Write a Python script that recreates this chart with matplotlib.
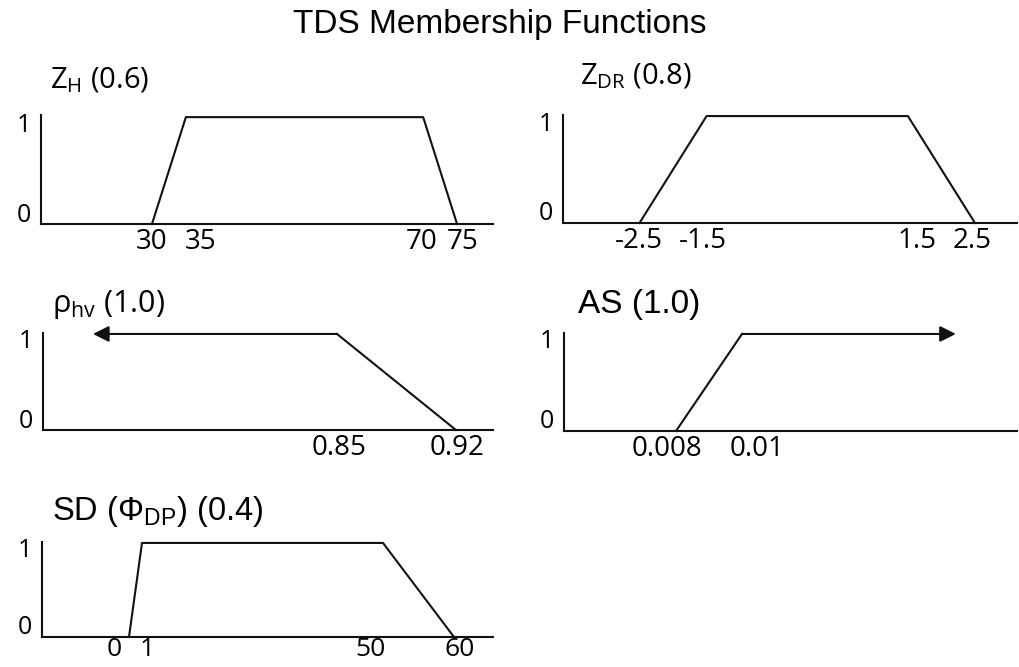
import numpy as np
import matplotlib
matplotlib.use("Agg")
import matplotlib.pyplot as plt
from matplotlib.transforms import ScaledTranslation

W, H, DPI = 1019, 667, 100

plt.rcParams["mathtext.default"] = "regular"

title = "TDS Membership Functions"

# breakpoints of each membership function (x) and membership value (y)
zh_x = [30, 35, 70, 75]
zh_y = [0, 1, 1, 0]
zh_label = r"$Z_H$ (0.6)"

zdr_x = [-2.5, -1.5, 1.5, 2.5]
zdr_y = [0, 1, 1, 0]
zdr_label = r"$Z_{DR}$ (0.8)"

rhohv_x = [0.85, 0.92]
rhohv_y = [1, 0]
rhohv_label = r"$ρ_{hv}$ (1.0)"

as_x = [0.008, 0.01]
as_y = [0, 1]
as_label = "AS (1.0)"

sd_x = [0, 1, 50, 60]
sd_y = [0, 1, 1, 0]
sd_label = r"SD ($Φ_{DP}$) (0.4)"

y_ticks = [0, 1]

CALIBRI_ISH = ["Open Sans", "DejaVu Sans"]
ARIAL_ISH = ["Liberation Sans", "DejaVu Sans"]
LINE = "#111111"
LW = 1.5

fig = plt.figure(figsize=(W / DPI, H / DPI), dpi=DPI)


def shift(text, dx=0, dy=0):
    # move a tick label by some pixels
    text.set_transform(text.get_transform() + ScaledTranslation(dx / DPI, dy / DPI, fig.dpi_scale_trans))


def panel(left, top, right, bottom, ytop):
    # axes placed in pixel units, only left/bottom spines drawn
    ax = fig.add_axes([left / W, 1 - bottom / H, (right - left) / W, (bottom - top) / H])
    for side in ("top", "right"):
        ax.spines[side].set_visible(False)
    for side in ("left", "bottom"):
        ax.spines[side].set_linewidth(LW)
        ax.spines[side].set_color(LINE)
    ax.set_ylim(0, ytop)
    ax.set_yticks(y_ticks)
    ax.set_yticklabels([str(t) for t in y_ticks], fontfamily=CALIBRI_ISH, fontsize=18)
    ax.tick_params(axis="both", length=0)
    ax.tick_params(axis="y", pad=7)
    ax.tick_params(axis="x", pad=3)
    lab0, lab1 = ax.get_yticklabels()
    shift(lab0, dy=12)
    shift(lab1, dy=-5)
    ax.patch.set_alpha(0)
    return ax


def xlabels(ax, ticks, nudges, size=20, dy=0):
    ax.set_xticks(ticks)
    ax.set_xticklabels([f"{t:g}" for t in ticks], fontfamily=CALIBRI_ISH, fontsize=size)
    # hand-placed labels: some sit a little off their breakpoint
    for lab, dx in zip(ax.get_xticklabels(), nudges):
        shift(lab, dx=dx, dy=dy)


def label(x, y, s, family, size):
    fig.text(x / W, 1 - y / H, s, fontfamily=family, fontsize=size, va="baseline", ha="left")


def arrow(ax, x0, tip_frac):
    ax.annotate("", xy=(tip_frac, 1), xycoords=("axes fraction", "data"),
                xytext=(x0, 1), textcoords="data",
                arrowprops=dict(arrowstyle="-|>", lw=LW, color=LINE,
                                mutation_scale=24, shrinkA=0, shrinkB=0))


# Z_H
ax1 = panel(41, 115, 493, 224, 1.02)
ax1.plot(zh_x, zh_y, color=LINE, lw=LW, clip_on=False)
ax1.set_xlim(13.63, 80.3)
xlabels(ax1, zh_x, [0, 15, -2, 6])
label(50, 88, zh_label, CALIBRI_ISH, 21)

# Z_DR
ax2 = panel(563, 115, 1017, 223, 1.01)
ax2.plot(zdr_x, zdr_y, color=LINE, lw=LW, clip_on=False)
ax2.set_xlim(-3.64, 3.126)
xlabels(ax2, zdr_x, [-1, -4, 9, -3])
label(580, 84, zdr_label, CALIBRI_ISH, 21)

# rho_hv, open to the left
ax3 = panel(43, 333, 493, 430, 1.01)
ax3.plot(rhohv_x, rhohv_y, color=LINE, lw=LW, clip_on=False)
arrow(ax3, rhohv_x[0], 0.111)
ax3.set_xlim(0.677, 0.9418)
xlabels(ax3, rhohv_x, [2, 1])
label(52, 312, rhohv_label, CALIBRI_ISH, 22)

# AS, open to the right
ax4 = panel(564, 333, 1017, 431, 1.01)
ax4.plot(as_x, as_y, color=LINE, lw=LW, clip_on=False)
arrow(ax4, as_x[-1], 0.865)
ax4.set_xlim(0.004606, 0.018333)
xlabels(ax4, as_x, [-9, 15])
label(578, 313, as_label, ARIAL_ISH, 24)

# SD(Phi_DP): schematic axis, breakpoints are not to scale
sd_knots = [-10, 0, 1, 50, 60, 70]
sd_pos = [0.0, 0.1929, 0.2217, 0.7561, 0.9135, 1.0]
ax5 = panel(42, 542, 493, 637, 1.01)
ax5.set_xscale("function", functions=(lambda v: np.interp(v, sd_knots, sd_pos),
                                      lambda p: np.interp(p, sd_pos, sd_knots)))
ax5.plot(sd_x, sd_y, color=LINE, lw=LW, clip_on=False)
ax5.set_xlim(sd_knots[0], sd_knots[-1])
xlabels(ax5, sd_x, [-15, 5, -13, 6], size=19, dy=4)
label(52, 520, sd_label, ARIAL_ISH, 23.5)

fig.text(500 / W, 1 - 33 / H, title, fontfamily=ARIAL_ISH, fontsize=24,
         ha="center", va="baseline")

fig.savefig("out.png", dpi=DPI)
